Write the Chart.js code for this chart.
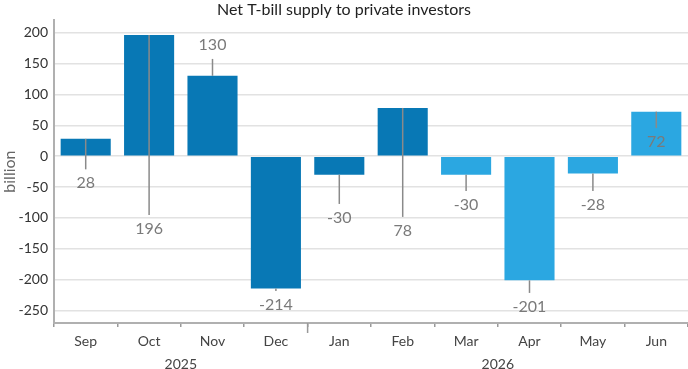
<!DOCTYPE html>
<html>
<head>
<meta charset="utf-8">
<script src="https://cdn.jsdelivr.net/npm/chart.js@4.4.1/dist/chart.umd.min.js"></script>
<style>
  html, body { margin: 0; padding: 0; background: #fff; }
  #wrap { width: 688px; height: 369px; position: relative; }
</style>
</head>
<body>
<div id="wrap"><canvas id="chart"></canvas></div>
<script>
const months = ['Sep', 'Oct', 'Nov', 'Dec', 'Jan', 'Feb', 'Mar', 'Apr', 'May', 'Jun'];
const supply = [28, 196, 130, -214, -30, 78, -30, -201, -28, 72];
const years = ['2025', '2025', '2025', '2025', '2026', '2026', '2026', '2026', '2026', '2026'];
const yTicks = [200, 150, 100, 50, 0, -50, -100, -150, -200, -250];

// where each value label sits (in billions)
const labelAt = [-44, -118, 180, -241, -100, -121, -79, -244, -79, 23];

const DARK = '#0878b5';
const LIGHT = '#2ba7e1';
const FONT = 'Lato, "Open Sans", sans-serif';

// first six months in the darker shade, the rest lighter
const barColors = months.map((_, i) => i < 6 ? DARK : LIGHT);

// value labels with leader lines, year labels and the long year tick
const extras = {
  id: 'extras',
  afterDatasetsDraw(chart) {
    const ctx = chart.ctx;
    const y = chart.scales.y;
    const meta = chart.getDatasetMeta(0);

    ctx.save();
    ctx.font = '16px ' + FONT;
    ctx.textAlign = 'center';
    ctx.textBaseline = 'middle';
    for (let i = 0; i < supply.length; i++) {
      const bx = meta.data[i].x;
      const yEnd = y.getPixelForValue(supply[i]);
      const yLab = y.getPixelForValue(labelAt[i]);
      const dir = yLab > yEnd ? 1 : -1;
      const yStop = yLab - dir * 14;
      if ((yStop - yEnd) * dir > 0) {
        ctx.strokeStyle = '#8a8a8a';
        ctx.lineWidth = 1.5;
        ctx.beginPath();
        ctx.moveTo(bx, yEnd);
        ctx.lineTo(bx, yStop);
        ctx.stroke();
      }
      ctx.fillStyle = '#7a7a7a';
      ctx.fillText(String(supply[i]), bx, yLab);
    }
    ctx.restore();
  },
  afterDraw(chart) {
    const ctx = chart.ctx;
    const x = chart.scales.x;
    const area = chart.chartArea;
    ctx.save();

    // longer tick at the year boundary
    let split = years.indexOf('2026');
    let bx = (x.getPixelForValue(split - 1) + x.getPixelForValue(split)) / 2;
    ctx.strokeStyle = '#999';
    ctx.lineWidth = 1.5;
    ctx.beginPath();
    ctx.moveTo(bx, area.bottom);
    ctx.lineTo(bx, area.bottom + 10);
    ctx.stroke();

    // year labels centred under their months
    ctx.font = '14px ' + FONT;
    ctx.fillStyle = '#444';
    ctx.textAlign = 'center';
    ctx.textBaseline = 'middle';
    const groups = {};
    years.forEach((yr, i) => {
      if (!groups[yr]) groups[yr] = [];
      groups[yr].push(i);
    });
    for (const yr in groups) {
      const idx = groups[yr];
      const x0 = x.getPixelForValue(idx[0]);
      const x1 = x.getPixelForValue(idx[idx.length - 1]);
      ctx.fillText(yr, (x0 + x1) / 2, area.bottom + 41);
    }
    ctx.restore();
  }
};

new Chart(document.getElementById('chart'), {
  type: 'bar',
  data: {
    labels: months,
    datasets: [{
      label: 'Net T-bill supply',
      data: supply,
      backgroundColor: barColors,
      borderWidth: 0,
      barPercentage: 0.79,
      categoryPercentage: 1.0
    }]
  },
  options: {
    responsive: true,
    maintainAspectRatio: false,
    animation: false,
    layout: { padding: { left: 0, right: 0, top: 0, bottom: 0 } },
    scales: {
      y: {
        min: -270,
        max: 220,
        afterBuildTicks(scale) {
          scale.ticks = yTicks.map(v => ({ value: v }));
        },
        afterFit(scale) {
          scale.width = 54;
        },
        ticks: {
          color: '#333',
          font: { family: FONT, size: 14 },
          padding: 6
        },
        grid: {
          color: '#e2e2e2',
          lineWidth: 1.5,
          drawTicks: false
        },
        border: { color: '#b0b0b0', width: 2 },
        title: {
          display: true,
          text: 'billion',
          color: '#666',
          font: { family: FONT, size: 16 },
          padding: { top: 0, bottom: 0 }
        }
      },
      x: {
        afterFit(scale) {
          scale.height = 46;
        },
        ticks: {
          color: '#444',
          font: { family: FONT, size: 14 },
          padding: 6
        },
        grid: {
          offset: true,
          drawOnChartArea: false,
          tickLength: 4,
          color: '#999',
          lineWidth: 1.5
        },
        border: { color: '#b0b0b0', width: 2 }
      }
    },
    plugins: {
      legend: { display: false },
      tooltip: { enabled: false },
      title: {
        display: true,
        text: 'Net T-bill supply to private investors',
        color: '#222',
        font: { family: FONT, size: 16, weight: 'normal' },
        padding: { top: 0, bottom: 1 }
      }
    }
  },
  plugins: [extras]
});
</script>
</body>
</html>
